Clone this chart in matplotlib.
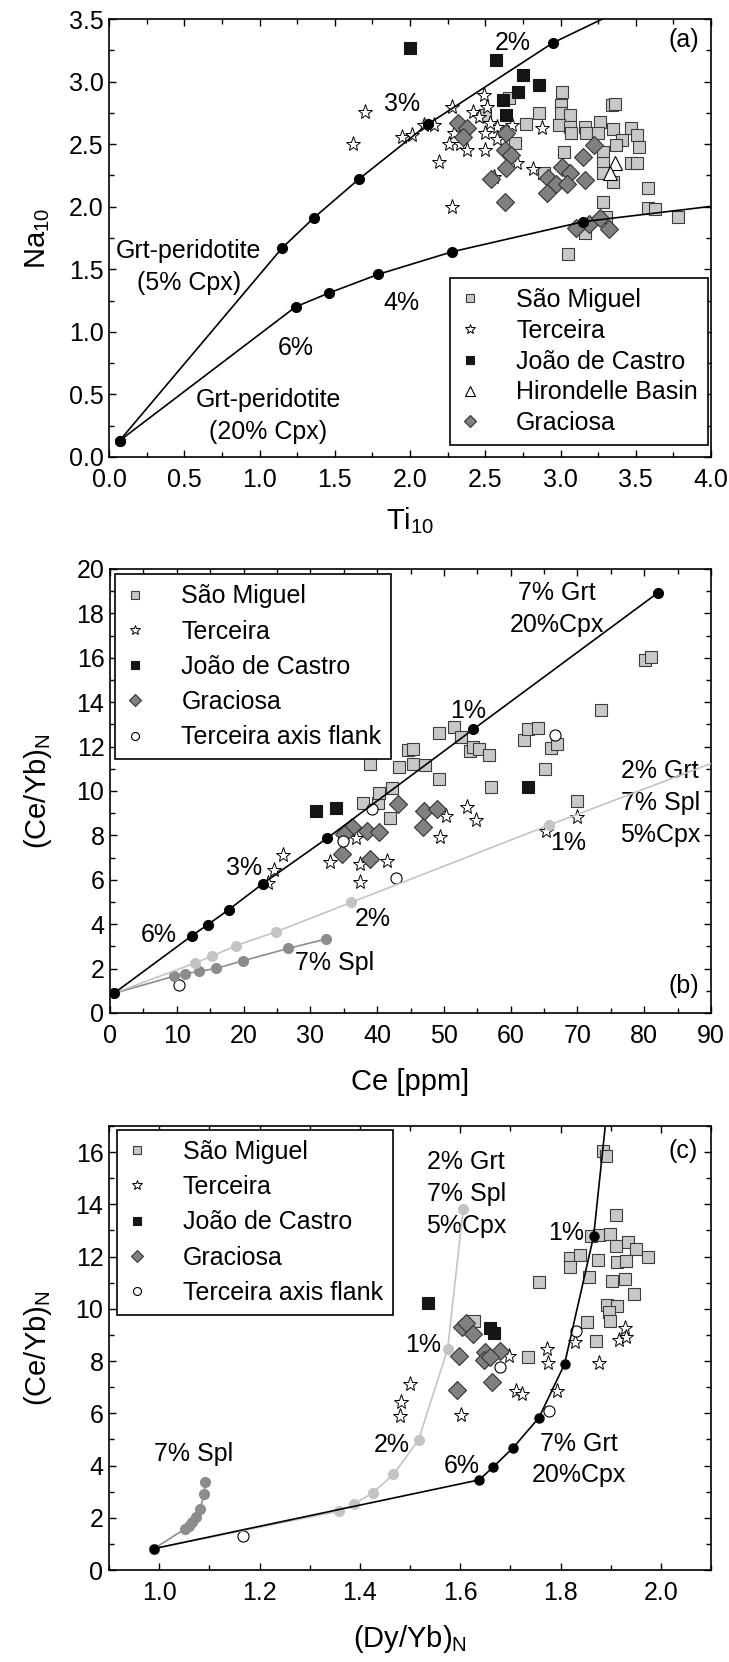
import matplotlib
matplotlib.use('Agg')
import matplotlib.pyplot as plt
from matplotlib.ticker import MultipleLocator, FormatStrFormatter

plt.rcParams['font.family'] = ['Liberation Sans', 'DejaVu Sans']
plt.rcParams['mathtext.fontset'] = 'custom'
plt.rcParams['mathtext.rm'] = 'Liberation Sans'
plt.rcParams['mathtext.default'] = 'regular'

# ---------------- panel (a): Na10 vs Ti10 ----------------
sm_a_x = [3.01, 3.00, 3.00, 3.06, 3.34, 3.36, 2.99, 3.06, 3.07, 3.16, 3.17, 3.26, 3.25, 3.35,
          3.47, 3.51, 3.41, 3.37, 3.52, 3.28, 3.28, 3.28, 3.35, 3.47, 3.51, 3.02, 3.58, 3.28,
          3.58, 3.63, 3.78, 3.30, 3.16, 3.05, 2.86, 2.77, 2.70, 2.50, 2.89, 2.66]
sm_a_y = [2.92, 2.81, 2.75, 2.73, 2.81, 2.82, 2.65, 2.64, 2.59, 2.64, 2.59, 2.68, 2.59, 2.62,
          2.63, 2.57, 2.53, 2.49, 2.48, 2.44, 2.35, 2.27, 2.20, 2.35, 2.35, 2.44, 2.15, 2.04,
          1.99, 1.98, 1.92, 1.92, 1.79, 1.62, 2.75, 2.66, 2.51, 2.73, 2.27, 2.87]
ter_a_x = [1.70, 1.62, 1.95, 2.01, 2.09, 2.16, 2.28, 2.19, 2.28, 2.49, 2.51, 2.29, 2.26, 2.33,
           2.38, 2.42, 2.50, 2.50, 2.58, 2.58, 2.53, 2.68, 2.71, 2.82, 2.88, 2.56, 2.46]
ter_a_y = [2.76, 2.50, 2.56, 2.57, 2.65, 2.65, 2.80, 2.36, 2.00, 2.89, 2.80, 2.59, 2.50, 2.50,
           2.45, 2.76, 2.59, 2.45, 2.64, 2.54, 2.67, 2.65, 2.35, 2.30, 2.63, 2.24, 2.72]
jdc_a_x = [2.00, 2.57, 2.75, 2.86, 2.72, 2.62, 2.64]
jdc_a_y = [3.27, 3.17, 3.05, 2.97, 2.92, 2.85, 2.73]
hir_a_x = [3.36, 3.33]
hir_a_y = [2.35, 2.27]
gra_a_x = [2.32, 2.38, 2.35, 2.64, 2.63, 2.67, 2.64, 2.54, 2.63, 3.22, 3.15, 3.01, 3.06, 2.92,
           2.97, 3.04, 3.16, 2.91, 3.10, 3.19, 3.26, 3.32]
gra_a_y = [2.67, 2.63, 2.56, 2.59, 2.45, 2.41, 2.31, 2.22, 2.04, 2.49, 2.40, 2.32, 2.27, 2.23,
           2.18, 2.18, 2.21, 2.11, 1.83, 1.86, 1.91, 1.82]
# melting models (dots) and where the curve runs on past the last dot
m5_x = [0.07, 1.15, 1.36, 1.66, 2.12, 2.95]
m5_y = [0.13, 1.67, 1.91, 2.22, 2.66, 3.31]
m5_end = (3.40, 3.57)
m20_x = [0.07, 1.24, 1.46, 1.79, 2.28, 3.15]
m20_y = [0.13, 1.20, 1.31, 1.46, 1.64, 1.88]
m20_end = (4.05, 2.01)

# ---------------- panel (b): (Ce/Yb)N vs Ce ----------------
sm_b_x = [38.9, 37.9, 40.1, 40.3, 42.2, 41.9, 43.3, 44.6, 45.3, 45.4, 47.1, 49.2, 49.3, 51.5, 52.5,
          53.9, 54.3, 55.3, 56.8, 57.1, 62.0, 62.6, 64.1, 65.1, 66.0, 66.9, 70.0, 73.6, 80.1, 81.0]
sm_b_y = [11.2, 9.48, 9.45, 9.90, 10.12, 8.8, 11.1, 11.85, 11.87, 11.23, 11.15, 12.62, 10.55, 12.89,
          12.45, 11.8, 11.96, 11.88, 11.6, 10.18, 12.3, 12.8, 12.83, 11.0, 11.95, 12.1, 9.53, 13.63,
          15.88, 16.04]
ter_b_x = [23.7, 24.6, 25.9, 33.0, 36.9, 37.5, 37.5, 41.5, 50.3, 49.4, 53.5, 54.8, 65.3, 69.9]
ter_b_y = [5.84, 6.44, 7.13, 6.80, 7.90, 6.70, 5.92, 6.84, 8.88, 7.94, 9.28, 8.70, 8.20, 8.81]
jdc_b_x = [30.8, 33.8, 62.6]
jdc_b_y = [9.10, 9.25, 10.2]
gra_b_x = [36.3, 35.0, 38.5, 40.3, 43.2, 47.0, 49.0, 46.9, 34.8, 38.9]
gra_b_y = [8.39, 8.06, 8.22, 8.16, 9.43, 9.12, 9.18, 8.40, 7.18, 6.92]
taf_b_x = [10.3, 34.9, 39.3, 42.8, 66.7]
taf_b_y = [1.28, 7.74, 9.20, 6.09, 12.53]
grt_b_x = [0.56, 12.3, 14.65, 17.8, 22.9, 32.5, 54.4, 82.1]
grt_b_y = [0.88, 3.49, 3.98, 4.66, 5.83, 7.87, 12.78, 18.94]
mix_b_x = [0.56, 12.8, 15.2, 18.9, 24.8, 36.1, 65.8]
mix_b_y = [0.88, 2.26, 2.55, 3.04, 3.65, 4.98, 8.47]
mix_b_end = (91.0, 11.35)
spl_b_x = [0.56, 9.6, 11.2, 13.3, 15.9, 19.9, 26.7, 32.3]
spl_b_y = [0.88, 1.66, 1.77, 1.87, 2.01, 2.35, 2.91, 3.33]

# ---------------- panel (c): (Ce/Yb)N vs (Dy/Yb)N ----------------
sm_c_x = [1.884, 1.891, 1.911, 1.861, 1.876, 1.899, 1.911, 1.934, 1.950, 1.974, 1.818, 1.839,
          1.819, 1.874, 1.913, 1.930, 1.856, 1.903, 1.929, 1.757, 1.946, 1.892, 1.913, 1.897,
          1.899, 1.853, 1.870, 1.736, 1.627]
sm_c_y = [16.06, 15.85, 13.60, 12.79, 12.83, 12.85, 12.41, 12.57, 12.28, 11.98, 11.96, 12.05,
          11.61, 11.86, 11.80, 11.83, 11.21, 11.08, 11.16, 11.02, 10.58, 10.16, 10.12, 9.86,
          9.52, 9.48, 8.77, 8.17, 9.54]
ter_c_x = [1.500, 1.482, 1.480, 1.601, 1.698, 1.712, 1.724, 1.773, 1.775, 1.828, 1.793, 1.876,
           1.929, 1.916, 1.930]
ter_c_y = [7.12, 6.44, 5.90, 5.92, 8.21, 6.85, 6.72, 8.46, 7.91, 8.72, 6.86, 7.91, 9.26, 8.81, 8.94]
jdc_c_x = [1.536, 1.660, 1.667]
jdc_c_y = [10.22, 9.26, 9.07]
gra_c_x = [1.603, 1.612, 1.625, 1.597, 1.650, 1.647, 1.680, 1.664, 1.594, 1.660]
gra_c_y = [9.30, 9.45, 9.05, 8.18, 8.36, 8.05, 8.37, 7.18, 6.90, 8.15]
taf_c_x = [1.167, 1.679, 1.777, 1.831]
taf_c_y = [1.29, 7.76, 6.09, 9.17]
grt_c_x = [0.99, 1.638, 1.666, 1.705, 1.757, 1.808, 1.866]
grt_c_y = [0.82, 3.45, 3.95, 4.67, 5.83, 7.88, 12.78]
grt_c_end = (1.892, 17.5)
mix_c_x = [0.99, 1.358, 1.388, 1.426, 1.467, 1.517, 1.575, 1.606]
mix_c_y = [0.82, 2.25, 2.52, 2.96, 3.66, 4.98, 8.46, 13.82]
spl_c_x = [0.99, 1.051, 1.059, 1.065, 1.074, 1.081, 1.090, 1.092]
spl_c_y = [0.82, 1.57, 1.69, 1.83, 2.03, 2.34, 2.90, 3.36]

FS = 18
LFS = 21

sm_st = dict(ls='none', marker='s', ms=8, mfc='#c8c8c8', mec='#3c3c3c', mew=0.8, zorder=3)
ter_st = dict(ls='none', marker='*', ms=11, mfc='white', mec='black', mew=0.7, zorder=3)
jdc_st = dict(ls='none', marker='s', ms=8, mfc='#151515', mec='#151515', mew=0.8, zorder=3)
hir_st = dict(ls='none', marker='^', ms=10.5, mfc='white', mec='black', mew=0.8, zorder=3)
gra_st = dict(ls='none', marker='D', ms=9, mfc='#808080', mec='#333333', mew=0.8, zorder=3)
taf_st = dict(ls='none', marker='o', ms=8, mfc='white', mec='black', mew=0.8, zorder=3)


def model(ax, x, y, color, end=None, ms=7, lw=1.2):
    lx, ly = list(x), list(y)
    if end is not None:
        lx.append(end[0])
        ly.append(end[1])
    ax.plot(lx, ly, color=color, lw=lw, zorder=4)
    ax.plot(x, y, ls='none', marker='o', ms=ms, color=color, zorder=4)


def style(ax, xmaj, xmin, ymaj, ymin):
    ax.xaxis.set_major_locator(MultipleLocator(xmaj))
    ax.xaxis.set_minor_locator(MultipleLocator(xmin))
    ax.yaxis.set_major_locator(MultipleLocator(ymaj))
    ax.yaxis.set_minor_locator(MultipleLocator(ymin))
    ax.tick_params(which='both', direction='in', top=True, right=True, width=1.0)
    ax.tick_params(which='major', length=5)
    ax.tick_params(which='minor', length=3.5)
    ax.tick_params(axis='x', labelsize=FS, pad=8)
    ax.tick_params(axis='y', labelsize=FS, pad=4)
    for s in ax.spines.values():
        s.set_linewidth(1.2)


def legend(ax, handles, labels, spacing, **kw):
    leg = ax.legend(handles, labels, fontsize=FS, frameon=True, fancybox=False,
                    edgecolor='black', framealpha=1, borderaxespad=0, markerscale=0.72,
                    handlelength=0.8, handletextpad=1.45, labelspacing=spacing, borderpad=0.4,
                    **kw)
    leg.get_frame().set_linewidth(1.2)
    leg.set_zorder(6)


fig = plt.figure(figsize=(7.29, 16.62), dpi=100)
W, H = 729.0, 1662.0

# ---- (a)
ax = fig.add_axes([109 / W, 1 - 457 / H, 602 / W, 438 / H])
h1, = ax.plot(sm_a_x, sm_a_y, **sm_st)
h2, = ax.plot(ter_a_x, ter_a_y, **ter_st)
h3, = ax.plot(jdc_a_x, jdc_a_y, **jdc_st)
h4, = ax.plot(hir_a_x, hir_a_y, **hir_st)
h5, = ax.plot(gra_a_x, gra_a_y, **gra_st)
model(ax, m5_x, m5_y, 'black', m5_end)
model(ax, m20_x, m20_y, 'black', m20_end)
ax.set_xlim(0, 4)
ax.set_ylim(0, 3.5)
style(ax, 0.5, 0.25, 0.5, 0.25)
ax.xaxis.set_major_formatter(FormatStrFormatter('%.1f'))
ax.yaxis.set_major_formatter(FormatStrFormatter('%.1f'))
ax.set_xlabel(r'Ti$_{10}$', fontsize=LFS)
ax.set_ylabel(r'Na$_{10}$', fontsize=LFS)
ax.xaxis.set_label_coords(0.5, -0.111)
ax.yaxis.set_label_coords(-0.095, 0.5)
tk = dict(fontsize=FS, ha='center', va='center', linespacing=1.4)
ax.text(2.68, 3.31, '2%', **tk)
ax.text(1.945, 2.82, '3%', **tk)
ax.text(1.94, 1.23, '4%', **tk)
ax.text(1.24, 0.87, '6%', **tk)
ax.text(0.53, 1.52, 'Grt-peridotite\n(5% Cpx)', **tk)
ax.text(1.06, 0.33, 'Grt-peridotite\n(20% Cpx)', **tk)
ax.text(3.82, 3.33, '(a)', **tk)
legend(ax, [h1, h2, h3, h4, h5],
       ['São Miguel', 'Terceira', 'João de Castro', 'Hirondelle Basin', 'Graciosa'], 0.27,
       loc='lower right', bbox_to_anchor=(0.995, 0.027))

# ---- (b)
ax = fig.add_axes([110 / W, 1 - 1013 / H, 601 / W, 444 / H])
h1, = ax.plot(sm_b_x, sm_b_y, **sm_st)
h2, = ax.plot(ter_b_x, ter_b_y, **ter_st)
h3, = ax.plot(jdc_b_x, jdc_b_y, **jdc_st)
h4, = ax.plot(gra_b_x, gra_b_y, **gra_st)
h5, = ax.plot(taf_b_x, taf_b_y, **taf_st)
model(ax, spl_b_x, spl_b_y, '#8c8c8c')
model(ax, mix_b_x, mix_b_y, '#c4c4c4', mix_b_end)
model(ax, grt_b_x, grt_b_y, 'black')
ax.set_xlim(0, 90)
ax.set_ylim(0, 20)
style(ax, 10, 5, 2, 1)
ax.set_xlabel('Ce [ppm]', fontsize=LFS)
ax.set_ylabel(r'(Ce/Yb)$_N$', fontsize=LFS)
ax.xaxis.set_label_coords(0.5, -0.124)
ax.yaxis.set_label_coords(-0.094, 0.5)
ax.text(7.3, 3.52, '6%', **tk)
ax.text(20.1, 6.53, '3%', **tk)
ax.text(53.6, 13.6, '1%', **tk)
ax.text(66.9, 18.2, '7% Grt\n20%Cpx', **tk)
ax.text(39.3, 4.25, '2%', **tk)
ax.text(68.6, 7.65, '1%', **tk)
ax.text(82.4, 9.46, '2% Grt\n7% Spl\n5%Cpx', **tk)
ax.text(33.7, 2.26, '7% Spl', **tk)
ax.text(86.0, 1.2, '(b)', **tk)
legend(ax, [h1, h2, h3, h4, h5],
       ['São Miguel', 'Terceira', 'João de Castro', 'Graciosa', 'Terceira axis flank'], 0.45,
       loc='upper left', bbox_to_anchor=(0.0085, 0.988))

# ---- (c)
ax = fig.add_axes([109 / W, 1 - 1570 / H, 602 / W, 444 / H])
h1, = ax.plot(sm_c_x, sm_c_y, **sm_st)
h2, = ax.plot(ter_c_x, ter_c_y, **ter_st)
h3, = ax.plot(jdc_c_x, jdc_c_y, **jdc_st)
h4, = ax.plot(gra_c_x, gra_c_y, **gra_st)
h5, = ax.plot(taf_c_x, taf_c_y, **taf_st)
model(ax, spl_c_x, spl_c_y, '#8c8c8c')
model(ax, mix_c_x, mix_c_y, '#c4c4c4')
model(ax, grt_c_x, grt_c_y, 'black', grt_c_end, ms=6.5)
ax.set_xlim(0.9, 2.1)
ax.set_ylim(0, 17)
style(ax, 0.2, 0.1, 2, 1)
ax.xaxis.set_major_formatter(FormatStrFormatter('%.1f'))
ax.set_xlabel(r'(Dy/Yb)$_N$', fontsize=LFS)
ax.set_ylabel(r'(Ce/Yb)$_N$', fontsize=LFS)
ax.xaxis.set_label_coords(0.5, -0.12)
ax.yaxis.set_label_coords(-0.092, 0.5)
ax.text(1.069, 4.45, '7% Spl', **tk)
ax.text(1.464, 4.8, '2%', **tk)
ax.text(1.526, 8.6, '1%', **tk)
ax.text(1.612, 14.4, '2% Grt\n7% Spl\n5%Cpx', **tk)
ax.text(1.811, 12.9, '1%', **tk)
ax.text(1.603, 4.0, '6%', **tk)
ax.text(1.836, 4.23, '7% Grt\n20%Cpx', **tk)
ax.text(2.045, 16.03, '(c)', **tk)
legend(ax, [h1, h2, h3, h4, h5],
       ['São Miguel', 'Terceira', 'João de Castro', 'Graciosa', 'Terceira axis flank'], 0.45,
       loc='upper left', bbox_to_anchor=(0.0128, 0.991))

fig.savefig('out.png', dpi=100)
